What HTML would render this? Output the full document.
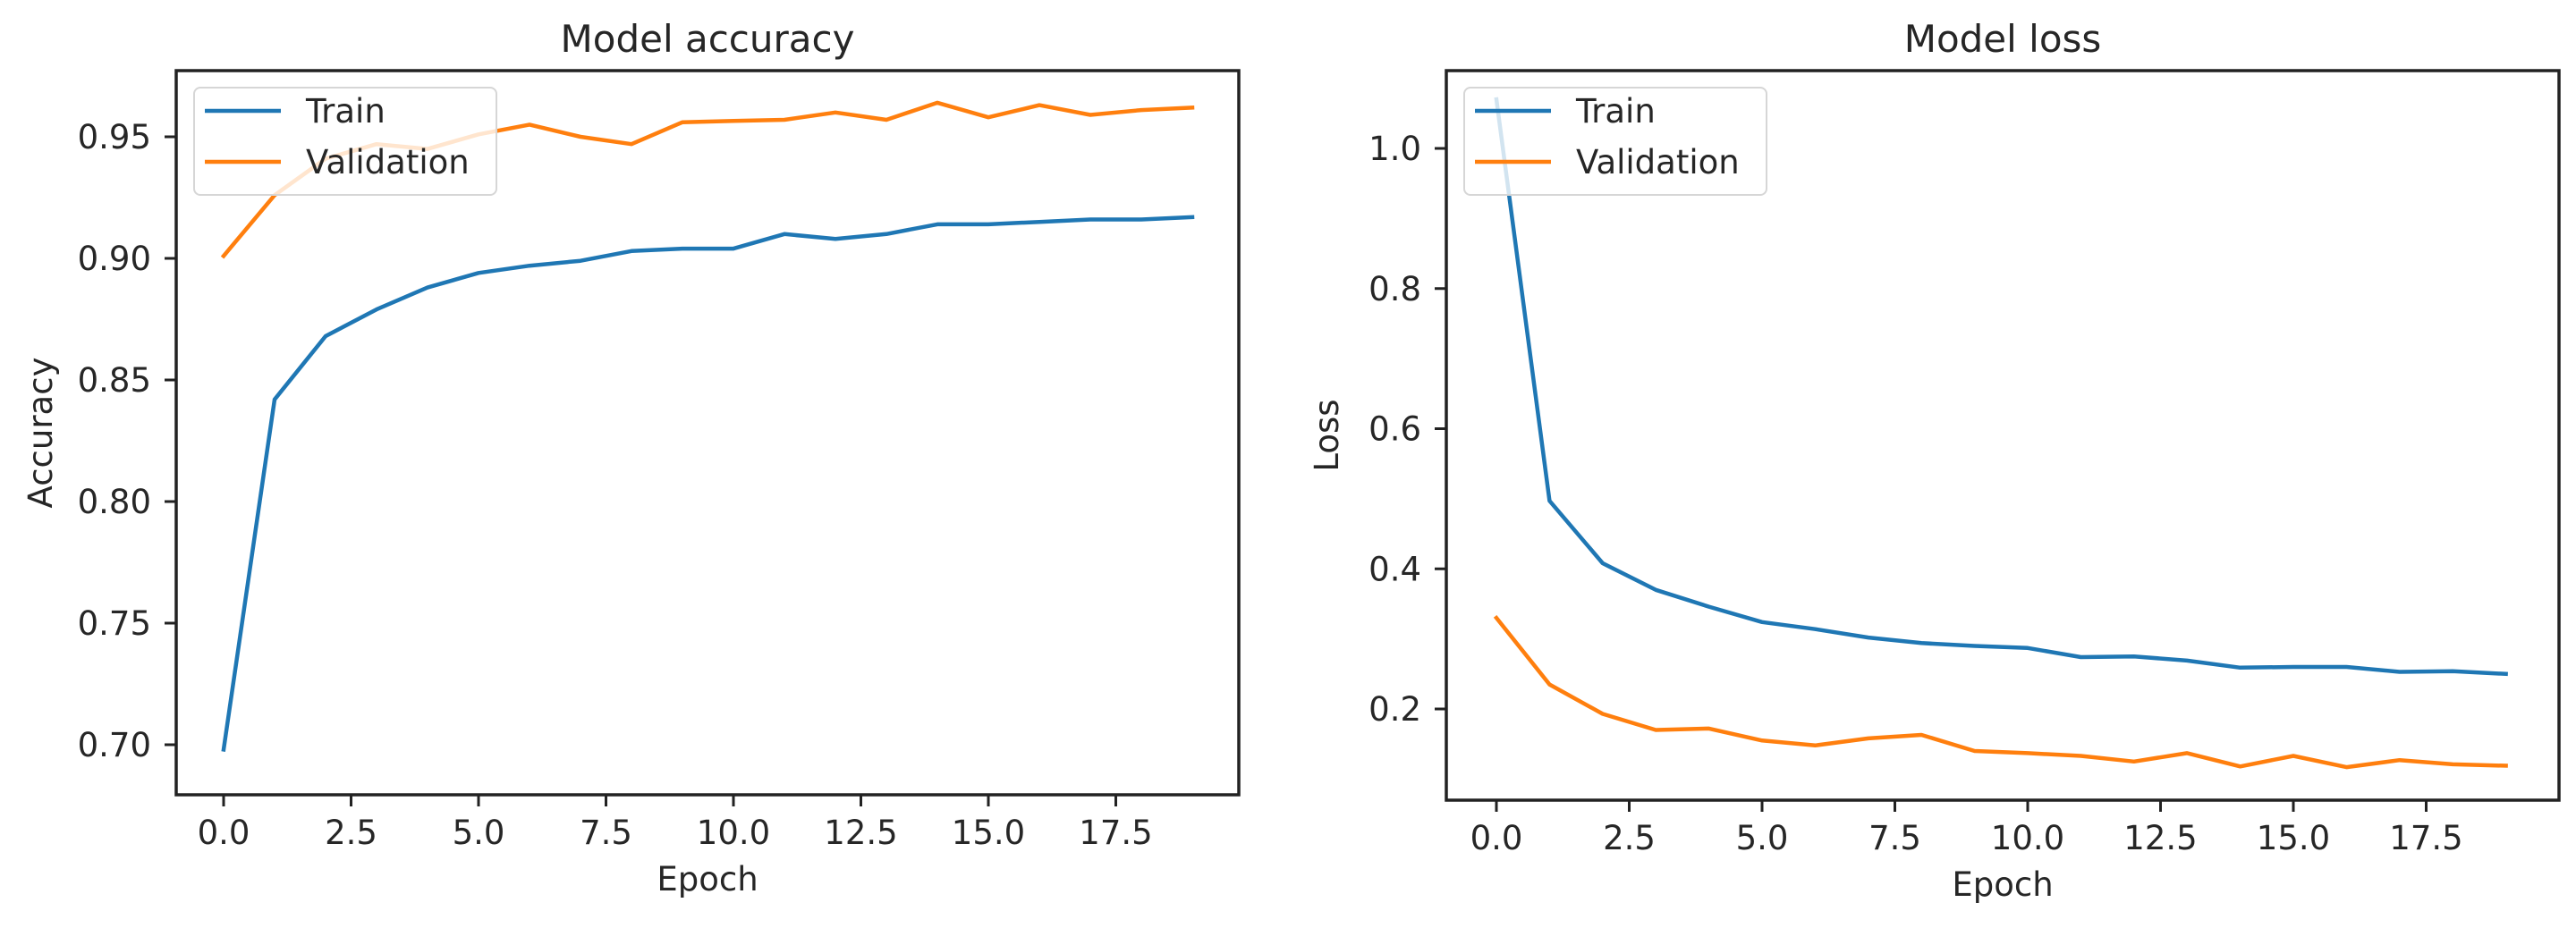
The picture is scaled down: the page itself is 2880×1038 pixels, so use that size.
<!DOCTYPE html>
<html><head><meta charset="utf-8"><style>
html,body{margin:0;padding:0;background:#fff;}
svg text{font-family:"DejaVu Sans","Liberation Sans",sans-serif;fill:#262626;}
</style></head><body>
<svg id="chart" width="2880" height="1033" viewBox="0 0 2880 1033" xmlns="http://www.w3.org/2000/svg"></svg>
<script>
const epochs = [0,1,2,3,4,5,6,7,8,9,10,11,12,13,14,15,16,17,18,19];
const accTrain = [0.698,0.842,0.868,0.879,0.888,0.894,0.897,0.899,0.903,0.904,0.904,0.910,0.908,0.910,0.914,0.914,0.915,0.916,0.916,0.917];
const accVal = [0.901,0.926,0.941,0.947,0.945,0.951,0.955,0.950,0.947,0.956,0.9565,0.957,0.960,0.957,0.964,0.958,0.963,0.959,0.961,0.962];
const lossTrain = [1.07,0.497,0.408,0.370,0.346,0.324,0.314,0.302,0.294,0.290,0.287,0.274,0.275,0.269,0.259,0.260,0.260,0.253,0.254,0.250];
const lossVal = [0.330,0.235,0.193,0.170,0.172,0.155,0.148,0.158,0.163,0.140,0.137,0.133,0.125,0.137,0.118,0.133,0.117,0.127,0.121,0.119];
const xTicks = [0,2.5,5,7.5,10,12.5,15,17.5];
const xTickLabels = ["0.0","2.5","5.0","7.5","10.0","12.5","15.0","17.5"];
const accTicks = [0.70,0.75,0.80,0.85,0.90,0.95];
const accTickLabels = ["0.70","0.75","0.80","0.85","0.90","0.95"];
const lossTicks = [0.2,0.4,0.6,0.8,1.0];
const lossTickLabels = ["0.2","0.4","0.6","0.8","1.0"];

const NS = "http://www.w3.org/2000/svg";
const svg = document.getElementById('chart');
function mk(tag, attrs, parent){
  const e = document.createElementNS(NS, tag);
  for (const k in attrs) e.setAttribute(k, attrs[k]);
  (parent||svg).appendChild(e);
  return e;
}
function panel(cfg){
  const g = mk('g', {});
  
  
  const xs = v => cfg.x0 + cfg.xk * v;
  const ys = v => cfg.yRef + (cfg.vRef - v) * cfg.yk;
  const t = mk('text', {x:(cfg.L+cfg.R)/2, y:58, 'font-size':42, 'text-anchor':'middle'}, g);
  t.textContent = cfg.title;
  
  
  const colors = ['#1f77b4', '#ff7f0e'];
  [cfg.s1, cfg.s2].forEach((s, i) => {
    const p = mk('polyline', {points: epochs.map((e, j) => xs(e).toFixed(1) + ',' + ys(s[j]).toFixed(1)).join(' '),
      fill:'none', stroke:colors[i], 'stroke-width':4.5, 'stroke-linejoin':'round', 'stroke-linecap':'square'}, g);
    
    
  });
  const f = mk('rect', {x:cfg.L, y:cfg.T, width:cfg.R-cfg.L, height:cfg.B-cfg.T, fill:'none', stroke:'#222', 'stroke-width':3.5}, g);
  
  
  xTicks.forEach((v, i) => {
    const X = xs(v);
    const l = mk('line', {x1:X, x2:X, y1:cfg.B, y2:cfg.B+13, stroke:'#222', 'stroke-width':3}, g);
    
    
    const tx = mk('text', {x:X, y:cfg.B+55, 'font-size':37, 'text-anchor':'middle'}, g);
    tx.textContent = xTickLabels[i];
    
    
  });
  cfg.yTicks.forEach((v, i) => {
    const Y = ys(v);
    const l = mk('line', {x1:cfg.L-13, x2:cfg.L, y1:Y, y2:Y, stroke:'#222', 'stroke-width':3}, g);
    
    
    const tx = mk('text', {x:cfg.L-28, y:Y+13, 'font-size':37, 'text-anchor':'end'}, g);
    tx.textContent = cfg.yLabels[i];
    
    
  });
  const xt = mk('text', {x:(cfg.L+cfg.R)/2, y:cfg.B+107, 'font-size':37, 'text-anchor':'middle'}, g);
  xt.textContent = 'Epoch';
  
  
  const yt = mk('text', {x:0, y:0, 'font-size':37, 'text-anchor':'middle', transform:'translate(' + (cfg.yTitleX) + ',' + ((cfg.T+cfg.B)/2) + ') rotate(-90)'}, g);
  yt.textContent = cfg.yTitle;
  
  
  const lg = mk('g', {}, g);
  
  
  const lx = cfg.L + 20;
  mk('rect', {x:lx, y:98, width:338, height:120, rx:7, fill:'#fff', 'fill-opacity':0.8, stroke:'#d6d6d6', 'stroke-width':2}, lg);
  ['Train', 'Validation'].forEach((name, i) => {
    const yy = 124 + i * 57;
    const e = mk('g', {}, lg);
    
    
    mk('line', {x1:lx+12, x2:lx+97, y1:yy, y2:yy, stroke:colors[i], 'stroke-width':4.5}, e);
    const tt = mk('text', {x:lx+125, y:yy+13, 'font-size':37}, e);
    tt.textContent = name;
  });
}
panel({name:'accuracy-chart', title:'Model accuracy', L:197, R:1385, T:79, B:889, x0:250, xk:57.0,
  yRef:289, vRef:0.90, yk:2720, yTicks:accTicks, yLabels:accTickLabels, s1:accTrain, s2:accVal,
  yTitle:'Accuracy', yTitleX:58});
panel({name:'loss-chart', title:'Model loss', L:1617, R:2861, T:79, B:895, x0:1673, xk:59.4,
  yRef:166, vRef:1.0, yk:783.75, yTicks:lossTicks, yLabels:lossTickLabels, s1:lossTrain, s2:lossVal,
  yTitle:'Loss', yTitleX:1496});
</script>
</body></html>
